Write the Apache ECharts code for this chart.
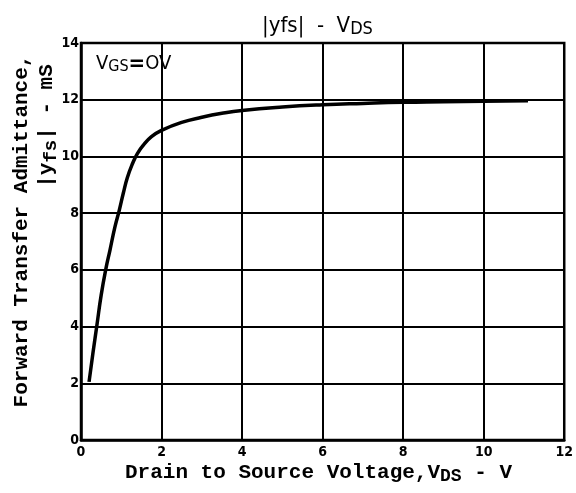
<!DOCTYPE html>
<html><head><meta charset="utf-8">
<script src="https://cdn.jsdelivr.net/npm/echarts@6/dist/echarts.min.js"></script>
<style>html,body{margin:0;padding:0;background:#fff}#c{width:576px;height:493px}</style>
</head><body><div id="c"></div>
<script>
const xTicks = [0, 2, 4, 6, 8, 10, 12];
const yTicks = [0, 2, 4, 6, 8, 10, 12, 14];
const vds = [0.2, 0.3, 0.4, 0.5, 0.62, 0.72, 0.84, 0.95, 1.05, 1.15, 1.28, 1.4, 1.55, 1.75, 2.0, 2.5, 3.0, 3.5, 4.0, 5.0, 6.0, 7.0, 8.0, 9.0, 10.0, 11.1];
const yfs = [2.05, 3.1, 4.1, 5.1, 6.05, 6.7, 7.5, 8.1, 8.7, 9.25, 9.75, 10.1, 10.4, 10.7, 10.92, 11.2, 11.38, 11.52, 11.62, 11.74, 11.82, 11.87, 11.91, 11.93, 11.95, 11.96];

const chart = echarts.init(document.getElementById('c'));
const mono = '"Liberation Mono", "DejaVu Sans Mono", monospace';
const cond = '"DejaVu Sans Condensed", "DejaVu Sans", sans-serif';
chart.setOption({
  animation: false,
  grid: { left: 81, right: 9, top: 43, bottom: 53, show: true, borderColor: '#000', borderWidth: 2.5 },
  xAxis: {
    type: 'value', min: xTicks[0], max: xTicks[xTicks.length - 1], interval: 2,
    axisLine: { show: true, lineStyle: { color: '#000', width: 2.5 } },
    axisTick: { show: false },
    axisLabel: { color: '#000', fontWeight: 'bold', fontSize: 14, fontFamily: cond, margin: 5 },
    splitLine: { show: true, lineStyle: { color: '#000', width: 2 } }
  },
  yAxis: {
    type: 'value', min: yTicks[0], max: yTicks[yTicks.length - 1], interval: 2,
    axisLine: { show: true, lineStyle: { color: '#000', width: 2.5 } },
    axisTick: { show: false },
    axisLabel: { color: '#000', fontWeight: 'bold', fontSize: 14, fontFamily: cond, margin: 2 },
    splitLine: { show: true, lineStyle: { color: '#000', width: 2 } }
  },
  series: [{
    type: 'line', smooth: true, showSymbol: false,
    data: vds.map((v, i) => [v, yfs[i]]),
    lineStyle: { color: '#000', width: 3.5 }
  }],
  graphic: [
    { type: 'text', left: 262, top: 15, style: { text: '|yfs|  -  V{s|DS}', fill: '#000',
        font: '22px ' + cond,
        rich: { s: { fontSize: 18, padding: [7, 0, 0, 0], fontFamily: cond } } } },
    { type: 'text', left: 96, top: 53, style: { text: 'V{s|GS}{e|=}OV', fill: '#000',
        font: '20px ' + cond,
        rich: { s: { fontSize: 16, padding: [5, 0, 0, 0], fontFamily: cond },
                e: { fontSize: 22, fontWeight: 'bold', fontFamily: cond } } } },
    { type: 'text', x: 22, y: 231, rotation: Math.PI / 2,
      style: { text: 'Forward Transfer Admittance,', fill: '#000', font: 'bold 21px ' + mono, textAlign: 'center', textVerticalAlign: 'middle' } },
    { type: 'text', x: 47, y: 126, rotation: Math.PI / 2,
      style: { text: '|y{s|fs}| - mS', fill: '#000', font: 'bold 21px ' + mono, textAlign: 'center', textVerticalAlign: 'middle',
        rich: { s: { font: 'bold 19px ' + mono, padding: [8, 0, 0, 0] } } } },
    { type: 'text', left: 125, top: 462,
      style: { text: 'Drain to Source Voltage,V{s|DS} - V', fill: '#000', font: 'bold 21px ' + mono,
        rich: { s: { font: 'bold 18px ' + mono, padding: [8, 0, 0, 0] } } } }
  ]
});
</script></body></html>
